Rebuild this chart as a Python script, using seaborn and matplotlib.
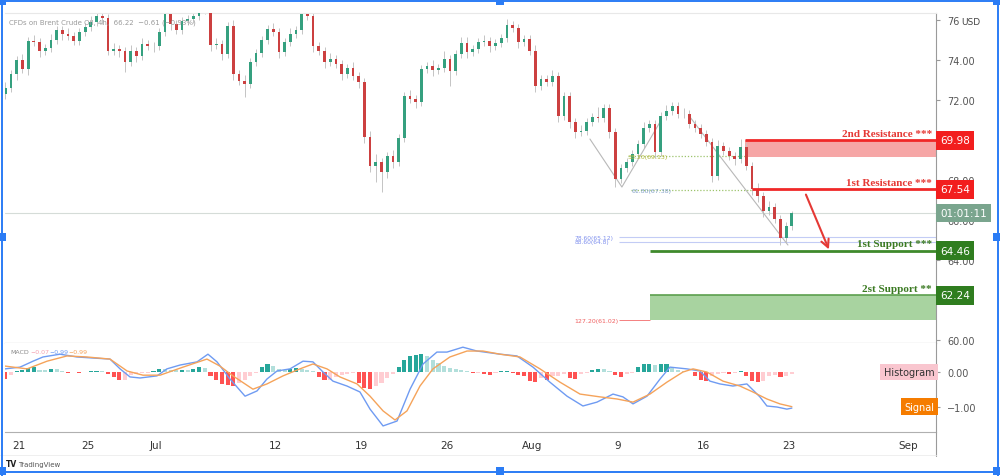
import numpy as np
import matplotlib
matplotlib.use("Agg")
import matplotlib.pyplot as plt
import matplotlib.transforms as mtransforms
from matplotlib.patches import Rectangle
from matplotlib.lines import Line2D
import seaborn as sns

# ---------------- data ----------------
# 4h candles, 3 per trading day; day 0 = Jun 21 (trading-day axis, no weekends)
first_day = -0.8
first_open = 72.3
closes = [
    72.6, 73.3, 74.0, 73.55, 74.95, 74.9, 74.45, 74.6, 75.0, 75.5,
    75.3, 75.2, 74.95, 75.4, 75.65, 75.9, 76.2, 76.1, 74.45, 74.55,
    74.45, 73.9, 74.45, 74.2, 74.8, 74.7, 74.7, 75.4, 76.3, 75.8,
    75.5, 75.95, 76.05, 76.2, 76.6, 76.5, 74.75, 74.8, 74.3, 75.7,
    73.3, 72.95, 72.8, 73.9, 74.35, 75.0, 75.55, 75.4, 74.4, 74.9,
    75.3, 75.5, 76.3, 76.2, 74.7, 74.45, 73.9, 74.05, 73.8, 73.3,
    73.6, 73.2, 72.9, 70.15, 68.7, 68.9, 68.4, 69.2, 68.9, 70.1,
    72.2, 72.05, 71.9, 73.55, 73.7, 73.5, 73.6, 74.05, 73.45, 74.3,
    74.85, 74.4, 74.55, 74.9, 74.95, 74.7, 74.85, 75.1, 75.75, 75.6,
    74.9, 75.05, 74.45, 72.7, 73.05, 72.9, 73.2, 71.2, 72.2, 70.9,
    70.4, 70.45, 70.9, 71.15, 71.1, 71.6, 70.4, 68.05, 68.6, 68.9,
    69.3, 69.8, 70.6, 70.8, 69.4, 71.2, 71.45, 71.7, 71.3, 71.3,
    70.8, 70.6, 70.3, 69.9, 68.2, 69.7, 69.45, 69.2, 69.05, 69.65,
    68.7, 67.55, 67.2, 66.45, 66.65, 66.05, 65.1, 65.7, 66.35]
wick_up = [
    0.3, 0.2, 0.2, 0.3, 0.2, 0.3, 0.2, 0.2, 0.3, 0.2,
    0.2, 0.3, 0.2, 0.2, 0.2, 0.3, 0.2, 0.2, 0.2, 0.3,
    0.2, 0.2, 0.3, 0.2, 0.3, 0.2, 0.2, 0.2, 0.1, 0.2,
    0.2, 0.2, 0.2, 0.2, 0.2, 0.3, 0.2, 0.3, 0.2, 0.2,
    0.3, 0.2, 0.3, 0.2, 0.2, 0.2, 0.2, 0.3, 0.2, 0.2,
    0.3, 0.2, 0.1, 0.2, 0.2, 0.2, 0.2, 0.3, 0.2, 0.2,
    0.2, 0.3, 0.2, 0.2, 0.3, 0.4, 0.2, 0.2, 0.3, 0.2,
    0.2, 0.3, 0.2, 0.2, 0.2, 0.3, 0.2, 0.4, 0.2, 0.2,
    0.3, 0.3, 0.2, 0.2, 0.3, 0.2, 0.2, 0.2, 0.3, 0.2,
    0.2, 0.2, 0.2, 0.3, 0.2, 0.2, 0.3, 0.2, 0.2, 0.2,
    0.2, 0.3, 0.2, 0.2, 0.5, 0.2, 0.2, 0.2, 0.2, 0.2,
    0.2, 0.2, 0.3, 0.2, 0.2, 0.2, 0.3, 0.2, 0.2, 0.3,
    0.2, 0.2, 0.2, 0.2, 0.2, 0.3, 0.2, 0.2, 0.2, 0.4,
    0.2, 0.2, 0.3, 0.2, 0.3, 0.2, 0.2, 0.2, 0.1]
wick_dn = [
    0.25, 0.2, 0.3, 0.2, 0.3, 0.2, 0.3, 0.2, 0.2, 0.2,
    0.3, 0.2, 0.2, 0.2, 0.2, 0.2, 0.2, 0.3, 0.2, 0.2,
    0.3, 0.5, 0.2, 0.3, 0.2, 0.2, 0.3, 0.2, 0.2, 0.3,
    0.2, 0.2, 0.2, 0.2, 0.2, 0.2, 0.3, 0.2, 0.3, 0.2,
    0.3, 0.2, 0.65, 0.2, 0.2, 0.2, 0.2, 0.2, 0.3, 0.2,
    0.2, 0.2, 0.2, 0.2, 0.3, 0.2, 0.3, 0.2, 0.2, 0.3,
    0.2, 0.2, 0.3, 0.3, 0.3, 0.8, 1.0, 0.3, 0.3, 0.2,
    0.2, 0.2, 0.3, 0.2, 0.2, 0.3, 0.2, 0.2, 0.75, 0.2,
    0.2, 0.3, 0.2, 0.2, 0.2, 0.3, 0.2, 0.2, 0.2, 0.2,
    0.3, 0.2, 0.2, 0.3, 0.2, 0.2, 0.2, 0.3, 0.2, 0.3,
    0.3, 0.2, 0.2, 0.2, 0.2, 0.2, 0.3, 0.4, 0.2, 0.2,
    0.2, 0.2, 0.2, 0.2, 0.3, 0.2, 0.2, 0.2, 0.2, 0.2,
    0.2, 0.2, 0.2, 0.2, 0.3, 0.2, 0.2, 0.2, 0.3, 0.2,
    0.2, 0.3, 0.3, 0.3, 0.2, 0.2, 0.35, 0.2, 0.2]
hist = [
    -0.20, -0.08, 0.04, 0.05, 0.12, 0.14, 0.07, 0.05, 0.09, 0.08,
    0.03, -0.02, 0.01, -0.02, 0.01, 0.02, 0.04, 0.03, -0.06, -0.15,
    -0.24, -0.22, -0.08, -0.05, -0.03, -0.02, 0.03, 0.10, 0.09, 0.06,
    0.05, 0.07, 0.05, 0.10, 0.14, 0.12, -0.10, -0.22, -0.35, -0.38,
    -0.40, -0.30, -0.22, -0.12, -0.04, 0.15, 0.22, 0.18, 0.10, 0.07,
    0.10, 0.12, 0.10, 0.05, 0.02, -0.15, -0.24, -0.22, -0.14, -0.08,
    -0.05, -0.03, -0.30, -0.45, -0.49, -0.40, -0.30, -0.18, -0.06, 0.15,
    0.35, 0.45, 0.50, 0.51, 0.45, 0.35, 0.25, 0.17, 0.12, 0.08,
    0.07, 0.03, -0.03, -0.02, -0.06, -0.08, -0.04, 0.02, 0.03, -0.02,
    -0.08, -0.12, -0.26, -0.29, -0.18, -0.22, -0.12, -0.10, -0.06, -0.18,
    -0.20, -0.06, -0.03, 0.05, 0.10, 0.08, 0.03, -0.08, -0.15, -0.07,
    -0.03, 0.15, 0.22, 0.23, 0.20, 0.22, 0.22, 0.12, 0.07, 0.04,
    0.01, -0.10, -0.22, -0.25, -0.12, -0.06, -0.04, -0.05, -0.04, 0.03,
    -0.12, -0.25, -0.29, -0.27, -0.12, -0.08, -0.14, -0.12, -0.07]

macd_days = [-0.82, 0.06, 0.82, 1.40, 2.40, 3.39, 4.33, 5.32, 5.91, 6.49, 7.08, 8.07,
             8.65, 9.42, 10.41, 11.05, 11.58, 12.34, 13.22, 13.92, 14.50, 15.09, 15.85,
             16.61, 17.19, 17.78, 18.36, 19.18, 19.94, 20.53, 21.29, 22.11, 22.87, 23.63,
             24.44, 25.03, 25.96, 26.78, 28.13, 29.12, 30.06, 31.05, 32.05, 32.98, 33.80,
             34.74, 35.32, 35.91, 36.73, 37.49, 38.07, 39.06, 39.82, 40.41, 40.99, 41.75,
             42.57, 43.33, 43.74, 44.33, 44.91, 45.2]
macd_vals = [0.09, 0.14, 0.31, 0.43, 0.51, 0.43, 0.40, 0.37, 0.09, -0.14, -0.17, -0.11,
             0.09, 0.20, 0.29, 0.51, 0.29, -0.20, -0.69, -0.54, -0.20, 0.03, 0.09,
             0.31, 0.29, 0.0, -0.26, -0.40, -0.57, -1.06, -1.54, -1.40, -0.49, 0.23,
             0.57, 0.57, 0.71, 0.60, 0.51, 0.46, 0.14, -0.29, -0.69, -0.97, -0.86,
             -0.63, -0.71, -0.91, -0.69, -0.20, 0.14, 0.09, 0.03, -0.26, -0.34, -0.40,
             -0.34, -0.71, -0.97, -1.0, -1.06, -1.03]
sig_days = [-0.82, 0.47, 1.64, 2.81, 3.98, 5.32, 6.32, 7.25, 8.25, 9.59, 10.99, 11.75,
            12.51, 13.68, 14.50, 15.44, 16.43, 17.19, 18.01, 18.77, 19.77, 20.53, 21.29,
            21.99, 22.69, 23.45, 24.21, 25.20, 26.20, 27.13, 28.13, 29.30, 30.47, 31.64,
            32.81, 33.98, 34.97, 35.91, 36.90, 37.89, 38.83, 39.42, 40.23, 41.17, 42.16,
            42.92, 43.74, 44.50, 45.2]
sig_vals = [0.17, 0.09, 0.31, 0.46, 0.43, 0.37, 0.03, -0.09, -0.09, 0.14, 0.37, 0.17,
            -0.11, -0.49, -0.34, -0.11, 0.09, 0.23, 0.09, -0.14, -0.34, -0.69, -1.11,
            -1.37, -1.11, -0.40, 0.09, 0.43, 0.60, 0.60, 0.51, 0.43, 0.09, -0.29,
            -0.63, -0.71, -0.77, -0.86, -0.63, -0.29, 0.0, 0.09, 0.0, -0.26, -0.40,
            -0.57, -0.77, -0.91, -0.99]

tick_days = [0, 4, 8, 15, 20, 25, 30, 35, 40, 45, 52]
tick_labels = ["21", "25", "Jul", "12", "19", "26", "Aug", "9", "16", "23", "Sep"]
price_ticks = [60, 62, 64, 66, 68, 70, 72, 74, 76]
price_labels = ["60.00", "", "64.00", "66.00", "68.00", "", "72.00", "74.00", "76"]

# key levels
res2, res2_low, res2_day = 69.98, 69.15, 42.46
res1, res1_day = 67.54, 42.87
sup1, sup1_day = 64.46, 36.9
sup2, sup2_low, sup2_day = 62.24, 61.0, 36.9
last_price = 66.35
countdown = "01:01:11"

# fib / drawing annotations
fib_green = [(69.2, 35.6, 42.46, "38.20(69.13)", "#b3b83a"),
             (67.5, 35.8, 42.9, "61.80(67.38)", "#7f9fc8")]
fib_blue = [(65.15, "78.60(65.12)"), (64.92, "88.60(64.8)")]
fib_red = (61.0, "127.20(61.02)")
fib_label_day, fib_line_day = 32.5, 35.1
zigzag_days, zigzag_px = [33.39, 35.26, 37.49], [70.05, 67.65, 70.9]
trend_days, trend_px = [39.24, 44.97], [71.15, 64.75]
arrow_from, arrow_to = (45.96, 67.4), (47.43, 64.4)

# ---------------- style ----------------
sns.set_style("white")
plt.rcParams['font.family'] = ['DejaVu Sans']

GREEN, RED = '#35a07f', '#cc4040'
x_lo, x_hi = -0.82, 53.63

fig = plt.figure(figsize=(10, 4.77), dpi=100)
ax = fig.add_axes([0.005, 0.2788, 0.931, 0.6918])
mx = fig.add_axes([0.005, 0.0922, 0.931, 0.1866], sharex=ax)

# ---------------- candles ----------------
closes = np.array(closes)
days = first_day + np.arange(len(closes)) / 3.0
opens = np.r_[first_open, closes[:-1]]
hi = np.maximum(opens, closes) + np.array(wick_up)
lo = np.minimum(opens, closes) - np.array(wick_dn)
cols = np.where(closes >= opens, GREEN, RED)
ax.vlines(days, lo, hi, color='#c4c4c4', lw=0.7, zorder=2)
ax.bar(days, closes - opens, bottom=opens, width=0.16, color=cols, lw=0, zorder=3)

ax.set_xlim(x_lo, x_hi)
ax.set_ylim(59.85, 76.35)

# current price line
ax.axhline(last_price, color='#d5dcd8', lw=0.8, zorder=1)

# resistance zone / lines
ax.fill_between([res2_day, x_hi], res2_low, res2, color='#f6a6a6', lw=0, zorder=1)
ax.hlines(res2, res2_day, x_hi, color='#f02828', lw=2, zorder=4)
ax.hlines(res1, res1_day, x_hi, color='#f02828', lw=2, zorder=4)
# support line / zone
ax.hlines(sup1, sup1_day, x_hi, color='#3f8a2c', lw=2, zorder=4)
ax.fill_between([sup2_day, x_hi], sup2_low, sup2, color='#a8d3a0', lw=0, zorder=1)
ax.hlines(sup2, sup2_day, x_hi, color='#5c9f4e', lw=1.2, zorder=2)

# fib drawings
for lvl, d0, d1, txt, c in fib_green:
    ax.hlines(lvl, d0, d1, color='#9cc36b', lw=0.9, linestyles=(0, (1, 1.5)), zorder=2)
    ax.text(d0, lvl, txt, fontsize=4.5, color=c, va='center', ha='left', zorder=5)
for lvl, txt in fib_blue:
    ax.hlines(lvl, fib_line_day, x_hi, color='#c3ccf5', lw=0.8, zorder=1)
    ax.text(fib_label_day, lvl, txt, fontsize=4.3, color='#7f90ee', va='center', ha='left')
ax.hlines(fib_red[0], fib_line_day, sup2_day, color='#f26b6b', lw=0.6)
ax.text(fib_label_day, fib_red[0], fib_red[1], fontsize=4.5, color='#f06060', va='center', ha='left')
ax.plot(zigzag_days, zigzag_px, color='#b8b8b8', lw=0.8, zorder=2)
ax.plot(trend_days, trend_px, color='#b8b8b8', lw=0.8, zorder=2)
ax.annotate('', xy=arrow_to, xytext=arrow_from,
            arrowprops=dict(arrowstyle='->', color='#e53935', lw=1.5, mutation_scale=14), zorder=6)

# level captions
for lvl, txt, c in [(res2, "2nd Resistance ***", '#e53935'), (res1, "1st Resistance ***", '#e53935'),
                    (sup1, "1st Support ***", '#3b7a22'), (sup2, "2st Support **", '#3b7a22')]:
    ax.annotate(txt, xy=(1, lvl), xycoords=('axes fraction', 'data'), xytext=(-3, 5),
                textcoords='offset points', ha='right', va='center', color=c,
                fontsize=8, fontweight='bold', family='Liberation Serif', zorder=6)

# price axis
ax.yaxis.tick_right()
ax.set_yticks(price_ticks)
ax.set_yticklabels(price_labels)
ax.tick_params(axis='y', labelsize=7, colors='#555', length=3, pad=5, color='#999')
ax.tick_params(axis='x', bottom=False, labelbottom=False)
ax.spines['left'].set_visible(False)
ax.spines['top'].set_color('#e8e8e8')
ax.spines['bottom'].set_color('#8c8c8c')
ax.spines['right'].set_color('#9a9a9a')

tr = mtransforms.blended_transform_factory(ax.transAxes, ax.transData)
for lvl, txt, fc in [(res2, "69.98", '#f21e1e'), (res1, "67.54", '#f21e1e'),
                     (sup1, "64.46", '#2f7d1f'), (sup2, "62.24", '#2f7d1f'),
                     (last_price, countdown, '#7aa58e')]:
    ax.text(1.0045, lvl, txt, transform=tr, ha='left', va='center', fontsize=7.5, color='white',
            bbox=dict(boxstyle='square,pad=0.42', fc=fc, ec='none'), clip_on=False, zorder=10)
ax.text(1.0275, 75.95, "USD", transform=tr, ha='left', va='center', fontsize=6.5, color='#444',
        clip_on=False, zorder=10)

# ---------------- MACD pane ----------------
hist = np.array(hist)
prev = np.r_[hist[0], hist[:-1]]
hcol = np.where(hist >= 0, np.where(hist >= prev, '#26a69a', '#b2dfdb'),
                np.where(hist <= prev, '#ff5252', '#ffcdd2'))
mx.bar(days, hist, width=0.24, color=hcol, lw=0, zorder=2)
sns.lineplot(x=macd_days, y=macd_vals, ax=mx, color='#6f9bf2', linewidth=1, zorder=3)
sns.lineplot(x=sig_days, y=sig_vals, ax=mx, color='#f5a35a', linewidth=1, zorder=3)
mx.set_ylim(-1.714, 0.829)
mx.set_xlim(x_lo, x_hi)
mx.set_ylabel('')
mx.yaxis.tick_right()
mx.set_yticks([0, -1])
mx.set_yticklabels(["0.00", "\u22121.00"])
mx.tick_params(axis='y', labelsize=7, colors='#555', length=3, pad=5, color='#999')
mx.set_xticks(tick_days)
mx.set_xticklabels(tick_labels)
mx.tick_params(axis='x', labelsize=7.5, colors='#333', length=3, pad=3, color='#999')
mx.spines['left'].set_visible(False)
mx.spines['top'].set_visible(False)
mx.spines['bottom'].set_color('#b0b0b0')
mx.spines['right'].set_color('#9a9a9a')

mtr = mtransforms.blended_transform_factory(mx.transAxes, mx.transData)
mx.text(0.998, 0.0, "Histogram", transform=mtr, ha='right', va='center', fontsize=7, color='#333',
        bbox=dict(boxstyle='square,pad=0.35', fc='#f9c6cf', ec='none'), zorder=10)
mx.text(0.998, sig_vals[-1], "Signal", transform=mtr, ha='right', va='center', fontsize=7, color='white',
        bbox=dict(boxstyle='square,pad=0.35', fc='#f57c00', ec='none'), zorder=10)

# ---------------- headers & frame ----------------
def fx(px):
    return px / 1000.0

def fy(py):
    return 1 - py / 477.0

fig.text(fx(9), fy(23), "CFDs on Brent Crude Oil, 4h,  66.22  \u22120.61 (\u22120.93%)",
         fontsize=5, color='#9a9a9a', va='center')
fig.text(fx(10), fy(353), "MACD", fontsize=4.5, color='#888', va='center')
fig.text(fx(30), fy(353), "\u22120.07", fontsize=4.5, color='#f4a0b0', va='center')
fig.text(fx(49), fy(353), "\u22120.99", fontsize=4.5, color='#6f9bf2', va='center')
fig.text(fx(68), fy(353), "\u22120.99", fontsize=4.5, color='#f5a35a', va='center')
fig.text(fx(6), fy(465), "TV", fontsize=5.5, color='#222', fontweight='bold', va='center')
fig.text(fx(18), fy(465), "TradingView", fontsize=5, color='#555', va='center')

fig.add_artist(Line2D([fx(936), fx(936)], [fy(433), fy(457)], transform=fig.transFigure, color='#9a9a9a', lw=0.8))
fig.add_artist(Line2D([fx(0), fx(936)], [fy(456), fy(456)], transform=fig.transFigure, color='#ececec', lw=0.6))

blue = '#2b7cf5'
for xs, ys in [([0, 1000], [1.5, 1.5]), ([0, 1000], [472.5, 472.5]),
               ([1.5, 1.5], [0, 477]), ([997.5, 997.5], [0, 477])]:
    fig.add_artist(Line2D([fx(v) for v in xs], [fy(v) for v in ys], transform=fig.transFigure,
                          color=blue, lw=1.4))
for hx, hy in [(2, 2), (500, 2), (997, 2), (2, 238), (997, 238), (2, 472), (500, 472), (997, 472)]:
    fig.add_artist(Rectangle((fx(hx - 4), fy(hy + 4)), 8 / 1000.0, 8 / 477.0, transform=fig.transFigure,
                             fc=blue, ec='none'))

fig.savefig("out.png", dpi=100)
